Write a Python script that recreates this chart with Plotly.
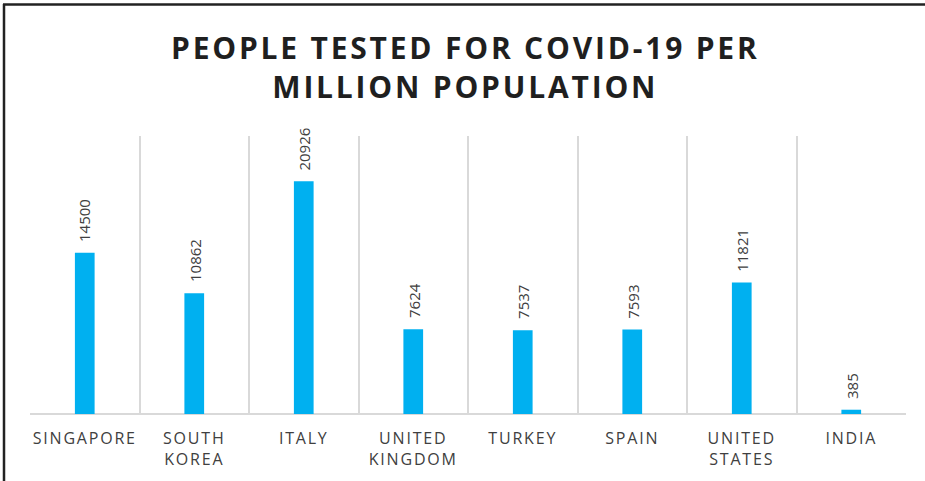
import plotly.graph_objects as go

countries = ["SINGAPORE", "SOUTH<br>KOREA", "ITALY", "UNITED<br>KINGDOM", "TURKEY", "SPAIN", "UNITED<br>STATES", "INDIA"]
tested_per_million = [14500, 10862, 20926, 7624, 7537, 7593, 11821, 385]

W, H = 925, 481
L, R, T, B = 30, 19, 136, 67


def spaced(s, px):
    return "<br>".join(f'<span style="letter-spacing:{px}px">{part}</span>' for part in s.split("<br>"))


fig = go.Figure()
fig.add_trace(go.Bar(
    x=countries, y=tested_per_million,
    marker=dict(color="#00B0F0", line=dict(width=0)),
    width=0.18,
    hoverinfo="x+y",
))

for c, v in zip(countries, tested_per_million):
    fig.add_annotation(
        x=c, y=v, xref="x", yref="y",
        text=str(v), textangle=-90,
        showarrow=False, yanchor="bottom", yshift=9,
        font=dict(family="Open Sans", size=15, color="#404040"),
    )

# frame lines (top and left edges of the picture)
fig.add_shape(type="line", xref="paper", yref="paper",
              x0=(3 - L) / (W - L - R), x1=(W - L) / (W - L - R),
              y0=(H - B - 4.5) / (H - T - B), y1=(H - B - 4.5) / (H - T - B),
              line=dict(color="#222222", width=2.5))
fig.add_shape(type="line", xref="paper", yref="paper",
              x0=(4 - L) / (W - L - R), x1=(4 - L) / (W - L - R),
              y0=(H - B - 4) / (H - T - B), y1=(H - B - H) / (H - T - B),
              line=dict(color="#222222", width=2.5))

fig.update_layout(
    width=W, height=H,
    margin=dict(l=L, r=R, t=T, b=B, autoexpand=False),
    paper_bgcolor="white", plot_bgcolor="white",
    showlegend=False,
    title=dict(
        text="<b>" + spaced("PEOPLE TESTED FOR COVID-19 PER<br>MILLION POPULATION", 2.8) + "</b>",
        x=0.503, xanchor="center", y=1 - 59 / H, yanchor="middle",
        font=dict(family="Open Sans", size=30, color="#1F1F1F"),
        automargin=False,
    ),
    xaxis=dict(
        type="category", tickson="boundaries", showgrid=True,
        gridcolor="#D9D9D9", gridwidth=1.5, ticks="",
        showline=False, zeroline=False,
        tickfont=dict(family="Open Sans", size=16, color="#404040"),
        tickvals=countries,
        ticktext=[spaced(c, 1.8) for c in countries],
        tickangle=0, automargin=False,
        ticklabelstandoff=13,
    ),
    yaxis=dict(
        range=[0, 25000], showgrid=False, showticklabels=False,
        zeroline=True, zerolinecolor="#D9D9D9", zerolinewidth=1.5,
        showline=False, ticks="", automargin=False,
    ),
)

fig.write_html("out.html")
